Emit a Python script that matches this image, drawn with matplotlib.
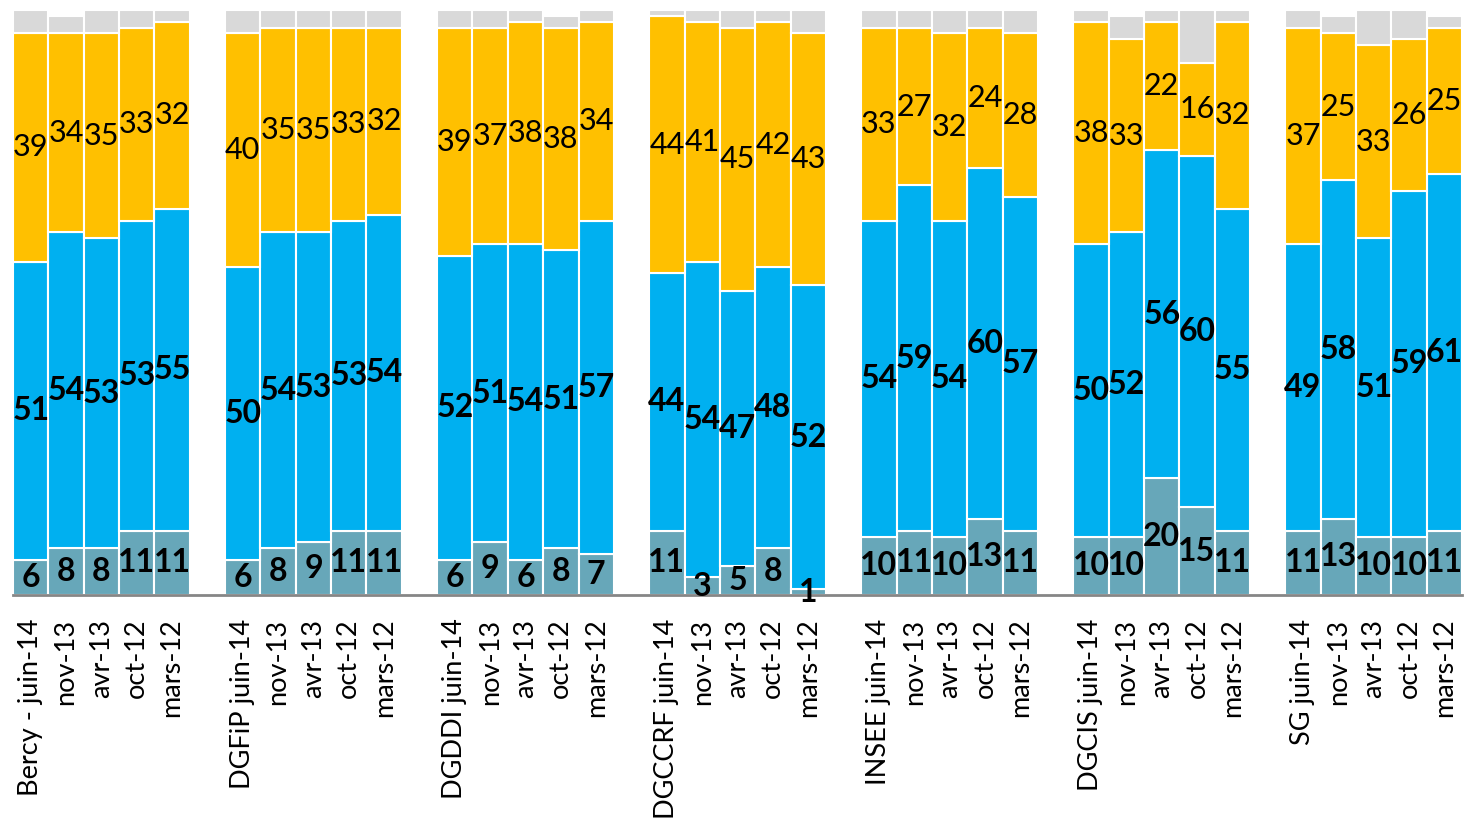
import numpy as np
import matplotlib
matplotlib.use("Agg")
import matplotlib.pyplot as plt

plt.rcParams["font.family"] = ["Lato", "DejaVu Sans"]

groups = ["Bercy - ", "DGFiP ", "DGDDI ", "DGCCRF ", "INSEE ", "DGCIS ", "SG "]
periods = ["juin-14", "nov-13", "avr-13", "oct-12", "mars-12"]

# values per group, 5 periods each
teal = [[6, 8, 8, 11, 11],
        [6, 8, 9, 11, 11],
        [6, 9, 6, 8, 7],
        [11, 3, 5, 8, 1],
        [10, 11, 10, 13, 11],
        [10, 10, 20, 15, 11],
        [11, 13, 10, 10, 11]]
blue = [[51, 54, 53, 53, 55],
        [50, 54, 53, 53, 54],
        [52, 51, 54, 51, 57],
        [44, 54, 47, 48, 52],
        [54, 59, 54, 60, 57],
        [50, 52, 56, 60, 55],
        [49, 58, 51, 59, 61]]
orange = [[39, 34, 35, 33, 32],
          [40, 35, 35, 33, 32],
          [39, 37, 38, 38, 34],
          [44, 41, 45, 42, 43],
          [33, 27, 32, 24, 28],
          [38, 33, 22, 16, 32],
          [37, 25, 33, 26, 25]]
grey = [[4, 3, 4, 3, 2],
        [4, 3, 3, 3, 3],
        [3, 3, 2, 2, 2],
        [1, 2, 3, 2, 4],
        [3, 3, 4, 3, 4],
        [2, 4, 2, 9, 2],
        [3, 3, 6, 5, 2]]

c_teal = "#67A7B9"
c_blue = "#00B0F0"
c_orange = "#FFC000"
c_grey = "#D9D9D9"

fig = plt.figure(figsize=(14.67, 8.18), dpi=100)
ax = fig.add_axes([0.0089, 0.2726, 0.9877, 0.7152])

x = []
labels = []
for g, name in enumerate(groups):
    for i, p in enumerate(periods):
        x.append(g * 6 + i)
        labels.append(name + p if i == 0 else p)
x = np.array(x)

t = np.array(teal).ravel()
b = np.array(blue).ravel()
o = np.array(orange).ravel()
gr = np.array(grey).ravel()

kw = dict(width=1.0, edgecolor="white", linewidth=1.5)
ax.bar(x, t, color=c_teal, **kw)
ax.bar(x, b, bottom=t, color=c_blue, **kw)
ax.bar(x, o, bottom=t + b, color=c_orange, **kw)
ax.bar(x, gr, bottom=t + b + o, color=c_grey, **kw)

for xi, tv, bv, ov in zip(x, t, b, o):
    ax.text(xi, tv / 2, str(tv), ha="center", va="center",
            fontsize=23, fontweight="bold", color="black")
    ax.text(xi, tv + bv / 2, str(bv), ha="center", va="center",
            fontsize=23, fontweight="bold", color="black")
    ax.text(xi, tv + bv + ov / 2, str(ov), ha="center", va="center",
            fontsize=22, color="black")

ax.set_xlim(-0.5, 40.5)
ax.set_ylim(0, 100)
ax.set_xticks(x)
ax.set_xticklabels(labels, rotation=90, fontsize=19.5)
ax.tick_params(axis="x", length=0, pad=17)
ax.set_yticks([])
for s in ["top", "right", "left"]:
    ax.spines[s].set_visible(False)
ax.spines["bottom"].set_color("#868686")
ax.spines["bottom"].set_linewidth(2)
ax.set_zorder(1)

fig.savefig("out.png", dpi=100)
